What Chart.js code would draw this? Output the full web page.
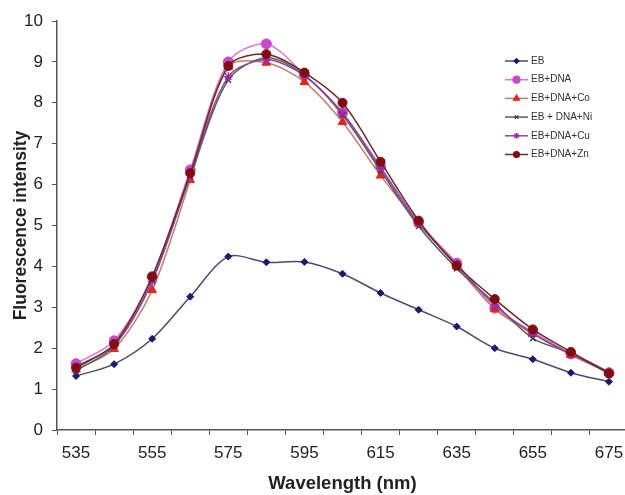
<!DOCTYPE html>
<html>
<head>
<meta charset="utf-8">
<script src="https://cdn.jsdelivr.net/npm/chart.js@4.4.1/dist/chart.umd.min.js"></script>
<style>
  html, body { margin: 0; padding: 0; background: #fff; overflow: hidden; }
  #wrap { width: 640px; height: 495px; }
</style>
</head>
<body>
<div id="wrap"><canvas id="c" width="640" height="495"></canvas></div>
<script>
const wavelengths = [535, 545, 555, 565, 575, 585, 595, 605, 615, 625, 635, 645, 655, 665, 675];
const eb      = [1.32, 1.61, 2.23, 3.26, 4.24, 4.10, 4.11, 3.82, 3.35, 2.94, 2.53, 2.00, 1.73, 1.40, 1.18];
const ebDna   = [1.62, 2.18, 3.75, 6.36, 9.00, 9.44, 8.68, 7.76, 6.44, 5.08, 4.08, 2.98, 2.40, 1.86, 1.40];
const ebDnaCo = [1.48, 1.98, 3.42, 6.11, 8.88, 8.98, 8.51, 7.53, 6.22, 5.05, 4.00, 2.96, 2.35, 1.83, 1.40];
const ebDnaNi = [1.45, 2.05, 3.65, 6.20, 8.56, 9.10, 8.68, 7.70, 6.34, 4.98, 3.95, 3.10, 2.24, 1.88, 1.42];
const ebDnaCu = [1.55, 2.08, 3.63, 6.25, 8.64, 9.05, 8.66, 7.75, 6.40, 5.05, 4.05, 3.05, 2.36, 1.86, 1.40];
const ebDnaZn = [1.52, 2.10, 3.75, 6.28, 8.90, 9.19, 8.74, 8.00, 6.56, 5.12, 4.02, 3.20, 2.46, 1.91, 1.38];
const seriesNames = ['EB', 'EB+DNA', 'EB+DNA+Co', 'EB + DNA+Ni', 'EB+DNA+Cu', 'EB+DNA+Zn'];
const yTicks = [0, 1, 2, 3, 4, 5, 6, 7, 8, 9, 10];

const FONT = '"Liberation Sans", Arial, sans-serif';
const styles = [
  { line: '#4a4a78', fill: '#1a1a6e', stroke: '#1a1a6e', pt: 'rectRot', r: 3.5 },
  { line: '#d27ad2', fill: '#c94ac9', stroke: '#c94ac9', pt: 'circle', r: 5 },
  { line: '#c77a6e', fill: '#e0261e', stroke: '#e0261e', pt: 'triangle', r: 5 },
  { line: '#5a5a5a', fill: '#333333', stroke: '#333333', pt: 'crossRot', r: 4 },
  { line: '#8c4a9c', fill: '#9a2aa8', stroke: '#9a2aa8', pt: 'star', r: 4.5 },
  { line: '#6e2a2a', fill: '#820c14', stroke: '#820c14', pt: 'circle', r: 4.5 }
];
const allData = [eb, ebDna, ebDnaCo, ebDnaNi, ebDnaCu, ebDnaZn];

const datasets = allData.map((d, i) => ({
  label: seriesNames[i],
  data: d,
  borderColor: styles[i].line,
  backgroundColor: styles[i].fill,
  pointBackgroundColor: styles[i].fill,
  pointBorderColor: styles[i].stroke,
  pointBorderWidth: styles[i].pt === 'crossRot' || styles[i].pt === 'star' ? 1.3 : 1,
  pointStyle: styles[i].pt,
  pointRadius: styles[i].r,
  borderWidth: 1.5,
  tension: 0.3,
  fill: false,
  order: 6 - i
}));

const legendPlugin = {
  id: 'customLegend',
  afterDraw(chart) {
    const ctx = chart.ctx;
    const x0 = 505, x1 = 528, tx = 531, y0 = 61, dy = 18.7;
    ctx.save();
    seriesNames.forEach((name, i) => {
      const y = y0 + i * dy;
      const s = styles[i];
      ctx.strokeStyle = s.line;
      ctx.lineWidth = 1.5;
      ctx.beginPath();
      ctx.moveTo(x0, y);
      ctx.lineTo(x1, y);
      ctx.stroke();
      ctx.fillStyle = s.fill;
      ctx.strokeStyle = s.stroke;
      ctx.lineWidth = 1.2;
      if (Chart.helpers && Chart.helpers.drawPoint) {
        Chart.helpers.drawPoint(ctx, { pointStyle: s.pt, radius: Math.max(2.5, s.r - 1.5), borderWidth: 1.2, rotation: 0 }, (x0 + x1) / 2, y);
      }
      ctx.fillStyle = '#333';
      ctx.font = '10px ' + FONT;
      ctx.textBaseline = 'middle';
      ctx.textAlign = 'left';
      ctx.fillText(name, tx, y);
    });
    ctx.restore();
  }
};

new Chart(document.getElementById('c'), {
  type: 'line',
  data: { labels: wavelengths.map(String), datasets },
  options: {
    responsive: false,
    animation: false,
    layout: { padding: { left: 0, right: 12, top: 21, bottom: 0 } },
    plugins: { legend: { display: false }, tooltip: { enabled: false } },
    scales: {
      x: {
        type: 'category',
        offset: true,
        grid: { offset: true, drawOnChartArea: false, drawTicks: true, tickLength: 5, color: '#555' },
        border: { display: true, color: '#555', width: 1.5 },
        ticks: {
          autoSkip: false,
          maxRotation: 0,
          padding: 8,
          color: '#222',
          font: { family: FONT, size: 17 },
          callback: function (v, i) { return i % 2 === 0 ? this.getLabelForValue(v) : ''; }
        },
        title: { display: true, text: 'Wavelength (nm)', color: '#222', font: { family: FONT, size: 18.5, weight: 'bold' }, padding: { top: 0, bottom: 0 } },
        afterFit: (s) => { s.height = 65; }
      },
      y: {
        min: 0, max: 10,
        afterBuildTicks: (s) => { s.ticks = yTicks.map(v => ({ value: v })); },
        grid: { drawOnChartArea: false, drawTicks: true, tickLength: 5, color: '#555' },
        border: { display: true, color: '#555', width: 1.5 },
        ticks: { padding: 9, color: '#222', font: { family: FONT, size: 17 } },
        title: { display: true, text: 'Fluorescence intensity', color: '#222', font: { family: FONT, size: 17.5, weight: 'bold' }, padding: { top: 11, bottom: 0 } },
        afterFit: (s) => { s.width = 57; }
      }
    }
  },
  plugins: [legendPlugin]
});
</script>
</body>
</html>
